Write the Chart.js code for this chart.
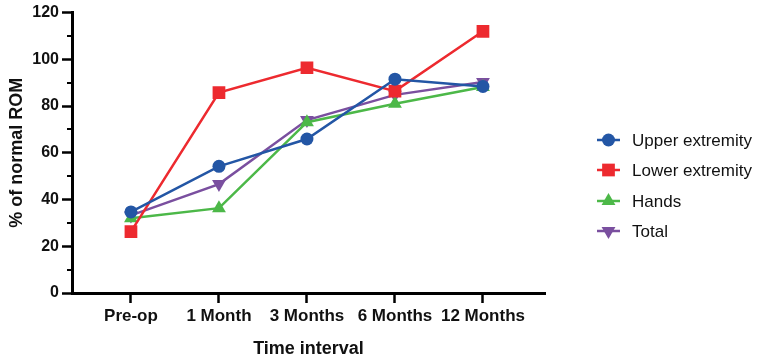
<!DOCTYPE html>
<html>
<head>
<meta charset="utf-8">
<script src="https://cdn.jsdelivr.net/npm/chart.js@4/dist/chart.umd.min.js"></script>
<style>
  html, body { margin: 0; padding: 0; background: #fff; }
  #wrap { width: 762px; height: 364px; }
</style>
</head>
<body>
<div id="wrap"><canvas id="romChart" width="762" height="364"></canvas></div>
<script>
const timeLabels = ['Pre-op', '1 Month', '3 Months', '6 Months', '12 Months'];
const upperExtremity = [34.7, 54.2, 65.9, 91.5, 88.4];
const lowerExtremity = [26.3, 85.8, 96.4, 86.4, 112.0];
const hands = [32.0, 36.3, 73.1, 81.0, 88.2];
const total = [33.2, 46.6, 74.0, 84.8, 90.3];
const yTicks = [0, 20, 40, 60, 80, 100, 120];

const FONT = '"Liberation Sans", Arial, Helvetica, sans-serif';

function points(values) {
  return values.map(function(v, i) { return { x: i, y: v }; });
}

function makeSet(label, values, color, style, radius, rotation) {
  return {
    label: label,
    data: points(values),
    borderColor: color,
    backgroundColor: color,
    borderWidth: 2.5,
    pointStyle: style,
    pointRadius: radius,
    pointRotation: rotation || 0,
    pointBorderWidth: 0,
    pointHoverRadius: radius,
    tension: 0
  };
}

const datasets = [
  makeSet('Upper extremity', upperExtremity, '#2356a5', 'circle', 6.5),
  makeSet('Lower extremity', lowerExtremity, '#ed2a2f', 'rect', 9),
  makeSet('Hands', hands, '#4cb848', 'triangle', 8),
  makeSet('Total', total, '#7a4f9f', 'triangle', 8, 180)
];

// minor ticks on y axis (every 10, shorter than the labelled ones)
const minorTicks = {
  id: 'minorTicks',
  afterDraw(chart) {
    const y = chart.scales.y;
    const ctx = chart.ctx;
    const left = chart.chartArea.left;
    ctx.save();
    ctx.strokeStyle = '#000';
    ctx.lineWidth = 2;
    for (let v = 10; v < 120; v += 20) {
      const py = Math.round(y.getPixelForValue(v));
      ctx.beginPath();
      ctx.moveTo(left - 5, py);
      ctx.lineTo(left, py);
      ctx.stroke();
    }
    ctx.restore();
  }
};

// legend with line + marker sample, placed to the right
const sideLegend = {
  id: 'sideLegend',
  afterDraw(chart) {
    const ctx = chart.ctx;
    const x0 = 597, x1 = 620, tx = 632;
    const rows = [140, 170, 201, 231];
    ctx.save();
    chart.data.datasets.forEach(function(ds, i) {
      const yy = rows[i];
      ctx.strokeStyle = ds.borderColor;
      ctx.lineWidth = 2.5;
      ctx.beginPath();
      ctx.moveTo(x0, yy);
      ctx.lineTo(x1, yy);
      ctx.stroke();
      ctx.fillStyle = ds.backgroundColor;
      Chart.helpers.drawPoint(ctx, {
        pointStyle: ds.pointStyle,
        rotation: ds.pointRotation,
        radius: ds.pointRadius,
        borderWidth: 0
      }, (x0 + x1) / 2, yy);
      ctx.fillStyle = '#111';
      ctx.font = '17px ' + FONT;
      ctx.textBaseline = 'middle';
      ctx.textAlign = 'left';
      ctx.fillText(ds.label, tx, yy + 1);
    });
    ctx.restore();
  }
};

const chart = new Chart(document.getElementById('romChart').getContext('2d'), {
  type: 'line',
  data: { datasets: datasets },
  plugins: [minorTicks, sideLegend],
  options: {
    responsive: false,
    animation: false,
    layout: { padding: { top: 12, right: 217, left: 0, bottom: 0 } },
    plugins: {
      legend: { display: false },
      tooltip: { enabled: false }
    },
    scales: {
      x: {
        type: 'linear',
        min: -0.67,
        max: 4.705,
        afterBuildTicks(scale) {
          scale.ticks = timeLabels.map(function(l, i) { return { value: i }; });
        },
        afterFit(scale) { scale.height = 71; },
        ticks: {
          autoSkip: false,
          maxRotation: 0,
          padding: 3,
          color: '#111',
          font: { family: FONT, size: 17, weight: 'bold' },
          callback: function(v) { return timeLabels[v]; }
        },
        grid: {
          drawOnChartArea: false,
          drawTicks: true,
          tickLength: 10,
          tickWidth: 2.5,
          tickColor: '#000'
        },
        border: { display: true, color: '#000', width: 3 },
        title: {
          display: true,
          text: 'Time interval',
          color: '#111',
          font: { family: FONT, size: 18, weight: 'bold' },
          padding: { top: 0, bottom: 4 }
        }
      },
      y: {
        min: 0,
        max: 120,
        afterBuildTicks(scale) {
          scale.ticks = yTicks.map(function(v) { return { value: v }; });
        },
        afterFit(scale) { scale.width = 72; },
        ticks: {
          padding: 3,
          color: '#111',
          font: { family: FONT, size: 16, weight: 'bold' }
        },
        grid: {
          drawOnChartArea: false,
          drawTicks: true,
          tickLength: 10,
          tickWidth: 2.5,
          tickColor: '#000'
        },
        border: { display: true, color: '#000', width: 3 },
        title: {
          display: true,
          text: '% of normal ROM',
          color: '#111',
          font: { family: FONT, size: 18, weight: 'bold' },
          padding: { top: 6, bottom: 0 }
        }
      }
    }
  }
});
</script>
</body>
</html>
